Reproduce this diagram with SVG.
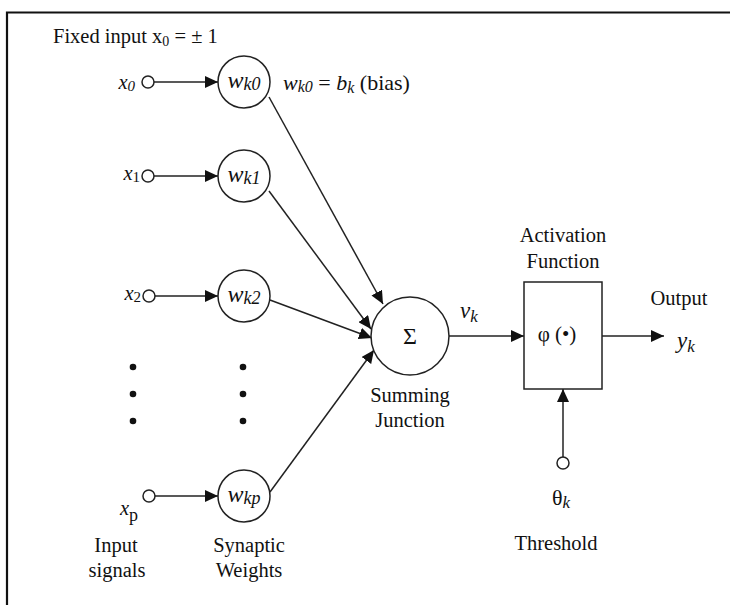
<svg xmlns="http://www.w3.org/2000/svg" width="730" height="605" viewBox="0 0 730 605">
<style>
text{font-family:"Liberation Serif","Times New Roman",serif;fill:#111}
.t{font-size:20.5px}
.it{font-style:italic}
.ln{stroke:#222;stroke-width:1.5;fill:none}
.nd{stroke:#222;stroke-width:1.5;fill:#fff}
.dot{fill:#111}
</style>
<defs>
<marker id="ah" markerUnits="userSpaceOnUse" markerWidth="14" markerHeight="12" refX="13" refY="6" orient="auto">
<path d="M0,0 L13,6 L0,12 Z" fill="#111"/>
</marker>
</defs>
<rect x="0" y="0" width="730" height="605" fill="#fff"/>
<path d="M7,605 L7,12.5 L730,12.5" stroke="#111" stroke-width="2.2" fill="none"/>

<text class="t" x="53" y="43">Fixed input x<tspan font-size="14" dy="3">0</tspan><tspan dy="-3"> = ± 1</tspan></text>

<g id="connectors">
<line class="ln" x1="154" y1="82" x2="218" y2="82" marker-end="url(#ah)"/>
<line class="ln" x1="154" y1="176" x2="218" y2="176" marker-end="url(#ah)"/>
<line class="ln" x1="155" y1="296" x2="218" y2="296" marker-end="url(#ah)"/>
<line class="ln" x1="155" y1="496" x2="218" y2="496" marker-end="url(#ah)"/>
<line class="ln" x1="269" y1="97" x2="383" y2="304" marker-end="url(#ah)"/>
<line class="ln" x1="269" y1="191" x2="371" y2="329" marker-end="url(#ah)"/>
<line class="ln" x1="270" y1="300" x2="372" y2="338" marker-end="url(#ah)"/>
<line class="ln" x1="270" y1="492" x2="374" y2="350" marker-end="url(#ah)"/>
<line class="ln" x1="449" y1="336" x2="524" y2="336" marker-end="url(#ah)"/>
<line class="ln" x1="602" y1="336" x2="664" y2="336" marker-end="url(#ah)"/>
<line class="ln" x1="563" y1="457" x2="563" y2="389" marker-end="url(#ah)"/>
</g>

<g id="input-x0">
<circle class="nd" cx="148" cy="82" r="6"/>
<text class="t it" x="135" y="89" text-anchor="end">x<tspan font-size="15" dy="2">0</tspan></text>
</g>
<g id="input-x1">
<circle class="nd" cx="148" cy="176" r="6"/>
<text class="t it" x="140" y="180" text-anchor="end">x<tspan font-size="15" dy="2" font-style="normal">1</tspan></text>
</g>
<g id="input-x2">
<circle class="nd" cx="149" cy="296" r="6"/>
<text class="t it" x="141" y="300" text-anchor="end">x<tspan font-size="15" dy="2" font-style="normal">2</tspan></text>
</g>
<g id="input-xp">
<circle class="nd" cx="149" cy="496" r="6"/>
<text class="t it" x="120" y="515">x<tspan font-size="18" dy="6" font-style="normal">p</tspan></text>
</g>

<g id="dots-inputs">
<circle class="dot" cx="133" cy="367" r="3.3"/>
<circle class="dot" cx="133" cy="394" r="3.3"/>
<circle class="dot" cx="133" cy="421" r="3.3"/>
</g>
<g id="dots-weights">
<circle class="dot" cx="243" cy="367" r="3.3"/>
<circle class="dot" cx="243" cy="394" r="3.3"/>
<circle class="dot" cx="243" cy="421" r="3.3"/>
</g>

<g id="weight-wk0">
<circle class="nd" cx="244" cy="82" r="26"/>
<text class="it" x="244" y="88" text-anchor="middle" font-size="24">w<tspan font-size="18" dy="2">k0</tspan></text>
</g>
<g id="weight-wk1">
<circle class="nd" cx="244" cy="176" r="26"/>
<text class="it" x="244" y="182" text-anchor="middle" font-size="24">w<tspan font-size="18" dy="2">k1</tspan></text>
</g>
<g id="weight-wk2">
<circle class="nd" cx="244" cy="296" r="26"/>
<text class="it" x="244" y="302" text-anchor="middle" font-size="24">w<tspan font-size="18" dy="2">k2</tspan></text>
</g>
<g id="weight-wkp">
<circle class="nd" cx="244" cy="496" r="26"/>
<text class="it" x="244" y="502" text-anchor="middle" font-size="24">w<tspan font-size="18" dy="2">kp</tspan></text>
</g>

<text x="283" y="90" font-size="22"><tspan font-style="italic">w</tspan><tspan font-style="italic" font-size="16" dy="2">k0</tspan><tspan dy="-2"> = </tspan><tspan font-style="italic">b</tspan><tspan font-style="italic" font-size="16" dy="3">k</tspan><tspan dy="-3"> (bias)</tspan></text>

<g id="summing-junction">
<circle class="nd" cx="410" cy="336" r="39"/>
<text x="410" y="344" text-anchor="middle" font-size="24">Σ</text>
<text class="t" x="410" y="402" text-anchor="middle">Summing</text>
<text class="t" x="410" y="427" text-anchor="middle">Junction</text>
</g>

<text class="it" x="460" y="318" font-size="23">v<tspan font-size="17" dy="4">k</tspan></text>

<g id="activation-function">
<rect class="nd" x="524" y="282" width="78" height="107"/>
<text x="557" y="341" text-anchor="middle" font-size="21">φ (•)</text>
<text class="t" x="563" y="242" text-anchor="middle">Activation</text>
<text class="t" x="563" y="268" text-anchor="middle">Function</text>
</g>

<g id="output">
<text class="t" x="679" y="305" text-anchor="middle">Output</text>
<text class="it" x="677" y="348" font-size="23">y<tspan font-size="17" dy="4">k</tspan></text>
</g>

<g id="threshold">
<circle class="nd" cx="563" cy="463" r="6"/>
<text x="552" y="505" font-size="22">θ<tspan font-style="italic" font-size="17" dy="3">k</tspan></text>
<text class="t" x="556" y="550" text-anchor="middle">Threshold</text>
</g>

<text class="t" x="116" y="552" text-anchor="middle">Input</text>
<text class="t" x="117" y="577" text-anchor="middle">signals</text>
<text class="t" x="249" y="552" text-anchor="middle">Synaptic</text>
<text class="t" x="249" y="577" text-anchor="middle">Weights</text>
</svg>
